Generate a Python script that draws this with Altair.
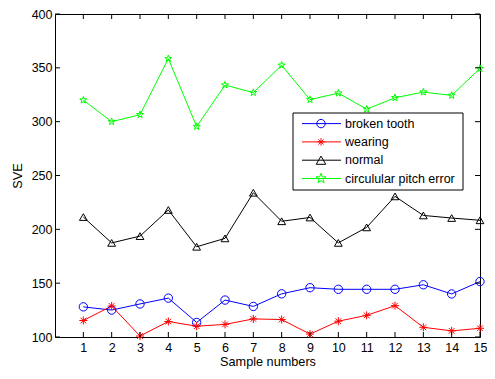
import altair as alt
import pandas as pd

samples = list(range(1, 16))
names = ["broken tooth", "wearing", "normal", "circulular pitch error"]
broken_tooth = [128, 125, 130.7, 136.1, 113.5, 134.3, 128.4, 140.1, 145.8, 144.3, 144.3, 144.3, 148.5, 140, 151.5]
wearing = [115.3, 128.8, 100.9, 114.4, 110, 111.7, 116.8, 116.2, 102.7, 114.7, 120.1, 129.1, 109, 105.7, 108.1]
normal = [211.4, 187.4, 193.7, 218, 183.8, 191.6, 234, 207.5, 211, 187.4, 201.8, 230.6, 212.9, 210.5, 208.4]
circular = [320, 300, 306.5, 358.5, 295.5, 334, 327, 352.4, 320.5, 326.5, 311.6, 322.2, 327.5, 324.4, 349.4]
y_ticks = [100, 150, 200, 250, 300, 350, 400]

colors = ["#0000FF", "#FF0000", "#000000", "#00FF00"]
STAR = ("M0,-1L0.235,-0.324L0.951,-0.309L0.380,0.124L0.588,0.809L0,0.4"
        "L-0.588,0.809L-0.380,0.124L-0.951,-0.309L-0.235,-0.324Z")
ASTER = "M0,-1L0,1M-1,0L1,0M-0.7,-0.7L0.7,0.7M-0.7,0.7L0.7,-0.7"
shapes = ["circle", ASTER, "triangle-up", STAR]
sizes = [70, 55, 90, 110]

W, H = 425, 323
FONT = "Liberation Sans"

rows = []
for name, vals in zip(names, [broken_tooth, wearing, normal, circular]):
    for s, v in zip(samples, vals):
        rows.append({"series": name, "sample": s, "sve": v})
df = pd.DataFrame(rows)

xscale = alt.Scale(domain=[0, 15], nice=False, zero=False)
yscale = alt.Scale(domain=[100, 400], nice=False, zero=False)
cscale = alt.Scale(domain=names, range=colors)
sscale = alt.Scale(domain=names, range=shapes)
zscale = alt.Scale(domain=names, range=sizes)

base = alt.Chart(df).encode(
    x=alt.X("sample:Q", scale=xscale,
            axis=alt.Axis(values=samples, tickCount=30, format="d", title="Sample numbers",
                          tickSize=0, domain=False, grid=False, labelPadding=4, titlePadding=2,
                          labelFlush=False, labelOverlap=False)),
    y=alt.Y("sve:Q", scale=yscale,
            axis=alt.Axis(values=y_ticks, tickCount=20, format="d", title="SVE", tickSize=0,
                          domain=False, grid=False, labelPadding=3, titlePadding=7,
                          labelOverlap=False)),
    color=alt.Color("series:N", scale=cscale, legend=None),
)
lines = base.mark_line(strokeWidth=1)
points = base.mark_point(filled=False, strokeWidth=1, opacity=1).encode(
    shape=alt.Shape("series:N", scale=sscale, legend=None),
    size=alt.Size("series:N", scale=zscale, legend=None),
)

xt = pd.DataFrame({"sample": samples})
yt = pd.DataFrame({"sve": y_ticks})
tick_bottom = alt.Chart(xt).mark_rule(color="black", strokeWidth=1).encode(
    x=alt.X("sample:Q", scale=xscale), y=alt.value(H), y2=alt.value(H - 5))
tick_top = alt.Chart(xt).mark_rule(color="black", strokeWidth=1).encode(
    x=alt.X("sample:Q", scale=xscale), y=alt.value(0), y2=alt.value(5))
tick_left = alt.Chart(yt).mark_rule(color="black", strokeWidth=1).encode(
    y=alt.Y("sve:Q", scale=yscale), x=alt.value(0), x2=alt.value(5))
tick_right = alt.Chart(yt).mark_rule(color="black", strokeWidth=1).encode(
    y=alt.Y("sve:Q", scale=yscale), x=alt.value(W), x2=alt.value(W - 5))

one = pd.DataFrame({"a": [0]})
legend_layers = [
    alt.Chart(one).mark_rect(fill="white", stroke="black", strokeWidth=1).encode(
        x=alt.value(238), x2=alt.value(408), y=alt.value(99), y2=alt.value(176))
]
for i, name in enumerate(names):
    ly = 109.6 + 18.3 * i
    legend_layers.append(alt.Chart(one).mark_rule(color=colors[i], strokeWidth=1).encode(
        x=alt.value(247), x2=alt.value(286), y=alt.value(ly), y2=alt.value(ly)))
    legend_layers.append(alt.Chart(one).mark_point(
        filled=False, strokeWidth=1, opacity=1, color=colors[i], shape=shapes[i], size=sizes[i]
    ).encode(x=alt.value(266), y=alt.value(ly)))
    legend_layers.append(alt.Chart(one).mark_text(
        align="left", baseline="middle", fontSize=12.5, font=FONT, color="black", text=name
    ).encode(x=alt.value(290), y=alt.value(ly)))

chart = alt.layer(lines, points, tick_bottom, tick_top, tick_left, tick_right, *legend_layers).properties(
    width=W, height=H,
    autosize=alt.AutoSizeParams(type="none"),
    padding={"left": 47, "top": 6, "right": 7, "bottom": 34},
).configure(background="white").configure_view(stroke="black", strokeWidth=1).configure_axis(
    labelFont=FONT, titleFont=FONT, labelFontSize=12.5, titleFontSize=12.7,
    labelColor="black", titleColor="black", titleFontWeight="normal", labelOverlap=False,
)

chart.save("out.html", embed_options={"renderer": "svg", "actions": False})
